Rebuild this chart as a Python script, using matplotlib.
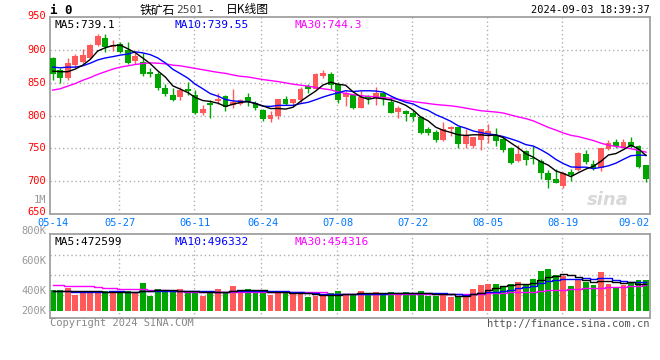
import matplotlib
matplotlib.use("Agg")
import matplotlib.pyplot as plt
import numpy as np

# K线数据 (05-14 ~ 09-03, 80个交易日)
opens = [888, 870, 858, 877, 882, 888, 907, 918, 904, 909, 900, 883, 882, 866, 863, 842, 831, 829, 840, 831,
         804, 819, 822, 830, 816, 818, 828, 820, 809, 795, 799, 825, 820, 824, 845, 841, 861, 864, 849, 828,
         831, 812, 830, 827, 834, 821, 805, 807, 804, 798, 780, 775, 763, 780, 782, 756, 754, 763, 772, 770,
         765, 750, 731, 746, 735, 731, 712, 704, 693, 714, 717, 741, 727, 720, 749, 760, 751, 760, 754, 724]
highs = [890, 872, 888, 894, 902, 910, 924, 924, 915, 912, 913, 896, 896, 872, 866, 849, 842, 844, 851, 839,
         816, 824, 835, 831, 840, 825, 835, 823, 810, 807, 826, 830, 826, 844, 848, 865, 869, 866, 852, 837,
         832, 838, 832, 843, 836, 828, 814, 808, 809, 799, 782, 778, 790, 784, 783, 780, 768, 779, 788, 781,
         768, 752, 755, 748, 753, 734, 717, 719, 714, 719, 745, 748, 733, 751, 763, 764, 765, 767, 755, 725]
lows = [855, 850, 854, 874, 880, 887, 906, 897, 899, 896, 879, 879, 861, 859, 839, 830, 822, 824, 831, 803,
        801, 797, 818, 807, 812, 816, 814, 808, 792, 790, 795, 816, 814, 820, 834, 840, 857, 840, 820, 815,
        810, 811, 818, 817, 817, 804, 797, 792, 792, 772, 770, 760, 762, 769, 751, 750, 750, 748, 759, 754,
        745, 726, 730, 725, 726, 704, 690, 697, 689, 701, 716, 726, 717, 715, 748, 750, 750, 750, 720, 699]
closes = [864, 857, 880, 891, 893, 908, 921, 905, 907, 897, 880, 891, 864, 864, 842, 833, 824, 839, 838, 804,
          810, 817, 826, 813, 821, 824, 823, 811, 795, 801, 825, 818, 825, 840, 841, 863, 865, 846, 824, 834,
          812, 828, 827, 835, 826, 804, 811, 803, 798, 774, 774, 763, 779, 782, 756, 769, 768, 779, 776, 761,
          748, 728, 741, 732, 734, 713, 702, 697, 713, 710, 743, 730, 718, 751, 758, 754, 760, 752, 722, 703]

ma5 = [868, 867, 867, 871, 877, 885.8, 898.6, 903.6, 906.8, 907.6, 902, 896, 887.8, 879.2, 868.2, 858.8, 845.4,
       840.4, 835.2, 827.6, 823, 821.6, 819, 814, 817.4, 820.2, 821.4, 818.4, 814.8, 810.8, 811, 810, 812.8,
       821.8, 829.8, 837.4, 846.8, 851, 847.8, 846.4, 836.2, 828.8, 825, 827.2, 825.6, 824, 820.6, 815.8, 808.4,
       798, 792, 782.4, 777.6, 774.4, 770.8, 769.8, 770.8, 770.8, 769.6, 770.6, 766.4, 758.4, 750.8, 742, 736.6,
       729.6, 724.4, 715.6, 711.8, 707, 713, 718.6, 722.8, 730.4, 740, 742.2, 748.2, 755, 749.2, 739.1]
ma10 = [874, 873, 874, 874, 876, 880, 885, 888, 890, 892.3, 893.9, 897.3, 895.7, 893, 887.9, 880.4, 870.7, 864.1,
        857.2, 847.9, 840.9, 833.5, 829.7, 824.6, 822.5, 821.6, 821.5, 818.7, 814.4, 814.1, 815.6, 815.7, 815.6,
        818.3, 820.3, 824.2, 828.4, 831.9, 834.8, 838.1, 836.8, 837.8, 838, 837.5, 836, 830.1, 824.7, 820.4, 817.8,
        811.8, 808, 801.5, 796.7, 791.4, 784.4, 780.9, 776.6, 774.2, 772, 770.7, 768.1, 764.6, 760.8, 755.8, 753.6,
        748, 741.4, 733.2, 726.9, 721.8, 721.3, 721.5, 719.2, 721.1, 723.5, 727.6, 733.4, 738.9, 739.8, 739.55]
ma30 = [839, 841, 845, 849, 854, 858, 863, 867, 871, 874, 876, 878, 879.5, 880.5, 880, 879, 877, 876, 874, 872,
        870, 868, 866, 864.5, 862, 860, 859, 857, 855, 853.5, 852, 850, 848, 846.5, 845, 843, 841, 839.5, 836, 834,
        832, 830.5, 829.5, 828.5, 827.5, 826.5, 825, 823, 821.5, 820, 818.5, 817, 816, 815, 813.5, 811.5, 809.5,
        807.5, 806.5, 805.5, 804, 801, 798, 795.5, 792, 787, 782, 778, 773.5, 770, 768, 765, 762, 758, 755, 753,
        751.5, 749.5, 747, 744.3]

# 成交量 (K)
volumes = [361, 361, 402, 274, 344, 344, 332, 344, 303, 303, 344, 303, 490, 262, 379, 344, 344, 379, 315, 315,
           262, 344, 379, 303, 431, 332, 379, 332, 332, 274, 344, 315, 303, 303, 245, 262, 262, 303, 344, 292,
           292, 344, 292, 327, 292, 327, 292, 327, 292, 344, 262, 262, 315, 245, 245, 245, 379, 449, 466, 466,
           431, 466, 501, 449, 548, 694, 729, 624, 612, 431, 548, 501, 449, 676, 466, 402, 449, 501, 536, 536]
vma5 = [344, 344, 344, 344, 348, 345, 339, 328, 333, 325, 325, 319, 349, 340, 356, 356, 364, 342, 352, 339,
        323, 323, 323, 321, 344, 358, 365, 355, 361, 330, 332, 319, 314, 308, 302, 286, 275, 275, 283, 293,
        299, 315, 313, 309, 309, 316, 306, 313, 306, 316, 303, 297, 295, 286, 266, 262, 286, 313, 357, 401,
        438, 456, 466, 463, 479, 532, 584, 609, 641, 618, 589, 543, 508, 521, 528, 499, 488, 499, 471, 472.6]
vma10 = [344, 340, 338, 336, 336, 336, 336, 336, 337, 337, 335, 329, 338, 337, 340, 340, 342, 345, 346, 348,
         339, 343, 332, 336, 342, 340, 344, 339, 341, 337, 345, 342, 335, 335, 316, 309, 297, 294, 296, 297,
         292, 295, 294, 296, 301, 308, 311, 313, 308, 313, 310, 302, 304, 296, 291, 283, 292, 304, 321, 333,
         350, 371, 389, 410, 440, 485, 520, 537, 552, 549, 560, 564, 559, 581, 573, 544, 516, 504, 496, 496.3]
vma30 = [449, 449, 440, 435, 431, 425, 410, 400, 392, 388, 380, 375, 373, 370, 365, 355, 344, 338, 335, 332,
         330, 330, 329, 329, 328, 328, 328, 327, 327, 327, 327, 327, 327, 327, 327, 327, 327, 292, 292, 291,
         291, 290, 290, 290, 290, 289, 289, 289, 289, 288, 288, 288, 288, 288, 288, 288, 295, 300, 305, 310,
         315, 320, 325, 330, 335, 345, 360, 365, 370, 375, 385, 390, 395, 405, 410, 415, 420, 430, 440, 454.3]

tick_labels = ["05-14", "05-27", "06-11", "06-24", "07-08", "07-22", "08-05", "08-19", "09-02"]
tick_idx = [0, 9, 19, 28, 38, 48, 58, 68, 78]

idx = np.arange(len(closes))
o = np.array(opens, float)
c = np.array(closes, float)
up = c >= o
RED = "#ff5959"
GREEN = "#00a600"
colors = [RED if u else GREEN for u in up]

W, H = 660, 360
fig = plt.figure(figsize=(6.6, 3.6), dpi=100)
fig.patch.set_facecolor("white")


def px_rect(x0, y0, x1, y1):
    return [x0 / W, 1 - y1 / H, (x1 - x0) / W, (y1 - y0) / H]


def ftext(x, y, s, **kw):
    fig.text(x / W, 1 - y / H, s, **kw)


mono = "DejaVu Sans Mono"
grid_kw = dict(color="#b0b0b0", linestyle=(0, (1, 2)), linewidth=1)
xlim = (-0.36, 79.53)

# ---- 价格 ----
ax = fig.add_axes(px_rect(50, 17.3, 650, 214))
ax.set_xlim(*xlim)
ax.set_ylim(650, 950)
for lv in [700, 750, 800, 850, 900]:
    ax.axhline(lv, zorder=0, **grid_kw)
for t in tick_idx[1:-1]:
    ax.axvline(t - 0.2, zorder=0, **grid_kw)

ax.vlines(idx, lows, highs, colors=colors, linewidth=1, zorder=2)
body = np.maximum(np.abs(c - o), 1.2)
ax.bar(idx, body, bottom=np.minimum(o, c), width=0.78, color=colors, linewidth=0, zorder=3)
ax.plot(idx, ma30, color="#ff00ff", lw=1, zorder=4)
ax.plot(idx, ma10, color="#0000ff", lw=1, zorder=4)
ax.plot(idx, ma5, color="black", lw=1, zorder=4)

ax.set_xticks([])
ax.set_yticks([])
for sp in ax.spines.values():
    sp.set_color("#a0a0a0")
    sp.set_linewidth(1.3)

ax.text(0.008, 0.985, "MA5:739.1", transform=ax.transAxes, va="top", ha="left",
        family=mono, fontsize=8, color="black")
ax.text(0.208, 0.985, "MA10:739.55", transform=ax.transAxes, va="top", ha="left",
        family=mono, fontsize=8, color="#0000ff")
ax.text(0.408, 0.985, "MA30:744.3", transform=ax.transAxes, va="top", ha="left",
        family=mono, fontsize=8, color="#ff00ff")
ax.text(0.965, 0.07, "sina", transform=ax.transAxes, ha="right", va="center",
        fontsize=13, fontstyle="italic", fontweight="bold", color="#d8d8d8", zorder=1)

for lv, yy in zip([950, 900, 850, 800, 750, 700, 650], [16, 50, 83, 116, 148, 181, 212]):
    ftext(46, yy, str(lv), ha="right", va="center", family=mono, fontsize=7.5, color="#ff0000")
ftext(46, 200, "1M", ha="right", va="center", family=mono, fontsize=7.5, color="#999999")

for t, lab in zip(tick_idx, tick_labels):
    ha = "center"
    xx = t
    if t == tick_idx[-1]:
        ha = "right"
        xx = 79.5
    ax.text(xx, -0.045, lab, transform=ax.get_xaxis_transform(), ha=ha, va="center",
            family=mono, fontsize=7.5, color="#0078ff")

# ---- 成交量 ----
scale = 1000.0
vx = fig.add_axes(px_rect(50, 234.3, 650, 317.7))
vx.set_xlim(*xlim)
vx.set_ylim(-122, 1337)
for lv in [275, 625, 975]:
    vx.axhline(lv, zorder=0, **grid_kw)
for t in tick_idx[1:-1]:
    vx.axvline(t - 0.2, zorder=0, **grid_kw)
vx.bar(idx, volumes, width=0.78, color=colors, linewidth=0, zorder=2)
vx.plot(idx, vma30, color="#ff00ff", lw=1, zorder=3, drawstyle="steps-mid")
vx.plot(idx, vma10, color="#0000ff", lw=1, zorder=3, drawstyle="steps-mid")
vx.plot(idx, vma5, color="black", lw=1, zorder=3, drawstyle="steps-mid")
vx.set_xticks([])
vx.set_yticks([])
for sp in vx.spines.values():
    sp.set_color("#a0a0a0")
    sp.set_linewidth(1.3)

vx.text(0.008, 0.97, "MA5:472599", transform=vx.transAxes, va="top", ha="left",
        family=mono, fontsize=8, color="black")
vx.text(0.208, 0.97, "MA10:496332", transform=vx.transAxes, va="top", ha="left",
        family=mono, fontsize=8, color="#0000ff")
vx.text(0.408, 0.97, "MA30:454316", transform=vx.transAxes, va="top", ha="left",
        family=mono, fontsize=8, color="#ff00ff")

for lab, yy in zip(["800K", "600K", "400K", "200K"], [231, 261, 291, 311]):
    ftext(46, yy, lab, ha="right", va="center", family=mono, fontsize=7.5, color="#999999")

# ---- 标题等 ----
ftext(50, 10, "i 0", ha="left", va="center", family=mono, fontsize=9, fontweight="bold", color="black")
ftext(140, 10, "铁矿石", ha="left", va="center", family=["Noto Sans CJK SC", "DejaVu Sans"],
      fontsize=8.5, color="black")
ftext(176, 10, "2501", ha="left", va="center", family=mono, fontsize=8, color="#444444")
ftext(207, 10, "-", ha="left", va="center", family=mono, fontsize=8, color="black")
ftext(226, 10, "日K线图", ha="left", va="center", family=["Noto Sans CJK SC", "DejaVu Sans"],
      fontsize=8.5, color="black")
ftext(650, 10, "2024-09-03 18:39:37", ha="right", va="center", family=mono, fontsize=7.5, color="black")
ftext(50, 323, "Copyright 2024 SINA.COM", ha="left", va="center", family=mono, fontsize=7.5,
      color="#888888")
ftext(650, 324, "http://finance.sina.com.cn", ha="right", va="center", family=mono, fontsize=7.5,
      color="#555555")

fig.savefig("out.png", dpi=100)
